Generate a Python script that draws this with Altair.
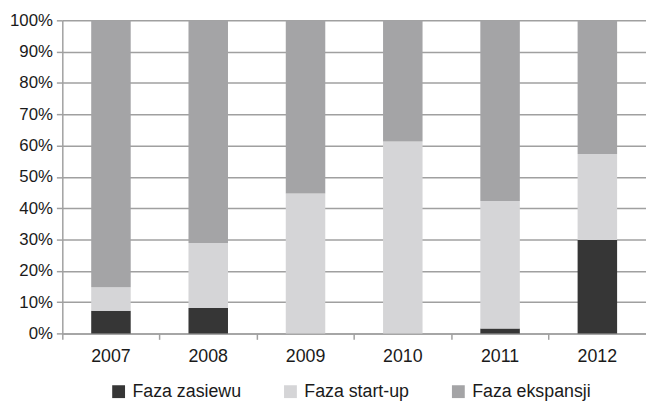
import altair as alt
import pandas as pd

years = ["2007", "2008", "2009", "2010", "2011", "2012"]
series = ["Faza zasiewu", "Faza start-up", "Faza ekspansji"]
zasiewu = [7.2, 8.1, 0.0, 0.0, 1.6, 29.8]
startup = [7.5, 20.8, 44.7, 61.3, 40.7, 27.5]
ekspansji = [85.3, 71.1, 55.3, 38.7, 57.7, 42.7]
colors = ["#363636", "#d5d5d7", "#a4a4a6"]
y_ticks = [0, 0.1, 0.2, 0.3, 0.4, 0.5, 0.6, 0.7, 0.8, 0.9, 1.0]

rows = []
for vals, name, order in zip([zasiewu, startup, ekspansji], series, [0, 1, 2]):
    for yr, v in zip(years, vals):
        rows.append({"year": yr, "series": name, "value": v, "order": order})
df = pd.DataFrame(rows)

font = "Liberation Sans"
grey = "#a0a0a0"
txt = "#1a1a1a"

chart = alt.Chart(df).mark_bar(size=40).encode(
    x=alt.X("year:N", title=None, sort=years,
            scale=alt.Scale(paddingInner=0, paddingOuter=0),
            axis=alt.Axis(bandPosition=0, labelAngle=0, labelFontSize=18,
                          labelFont=font, labelColor=txt, labelPadding=8,
                          tickSize=6, tickColor=grey, tickWidth=1.5,
                          domainColor=grey, domainWidth=1.5, grid=False)),
    y=alt.Y("value:Q", stack="normalize", title=None,
            scale=alt.Scale(domain=[0, 1], nice=False),
            axis=alt.Axis(values=y_ticks, format=".0%", labelFontSize=17,
                          labelFont=font, labelColor=txt, labelPadding=4,
                          tickSize=6, tickColor=grey, tickWidth=1.5,
                          domainColor=grey, domainWidth=1.5,
                          grid=True, gridColor=grey, gridWidth=1.5,
                          minExtent=55, maxExtent=55)),
    color=alt.Color("series:N", title=None,
                    scale=alt.Scale(domain=series, range=colors),
                    legend=alt.Legend(orient="none", legendX=48, legendY=367,
                                      direction="horizontal", symbolType="square",
                                      symbolSize=169, symbolStrokeWidth=0,
                                      labelFontSize=18, labelFont=font,
                                      labelColor=txt, labelOffset=5,
                                      columnPadding=40, padding=0)),
    order=alt.Order("order:Q", sort="ascending"),
).properties(
    width=591, height=317,
    padding={"left": 0, "top": 1, "right": 0, "bottom": 0},
).configure_view(strokeWidth=0)

chart.save("out.html", embed_options={"renderer": "svg", "actions": False})
